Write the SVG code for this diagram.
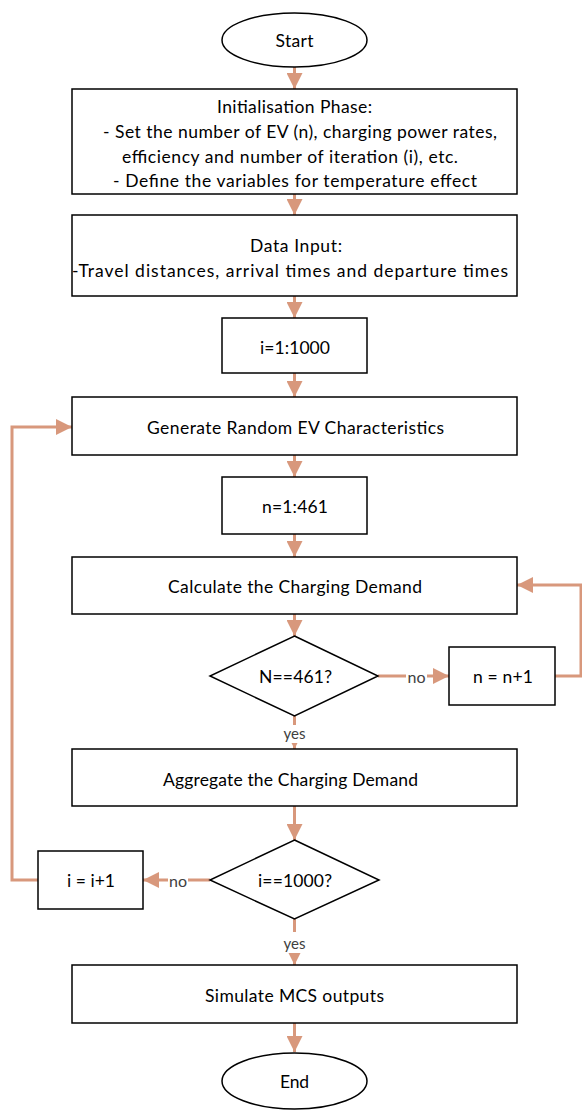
<svg xmlns="http://www.w3.org/2000/svg" width="582" height="1110" viewBox="0 0 582 1110">
<style>
.box{fill:#fff;stroke:#000;stroke-width:1.5}
.t{font-family:Lato,"Liberation Sans",sans-serif;font-size:17.5px;font-weight:400;fill:#000;text-anchor:middle;dominant-baseline:central}
.lbl{font-family:Lato,"Liberation Sans",sans-serif;font-size:15px;font-weight:400;fill:#404040;text-anchor:middle;dominant-baseline:central}
.c{fill:none;stroke:#D8987C;stroke-width:3}
.bg{fill:#fff}
</style>
<defs>
<marker id="ah" markerUnits="userSpaceOnUse" markerWidth="16" markerHeight="16" viewBox="0 0 16 16" refX="16" refY="8" orient="auto">
<path d="M0,0 L16,8 L0,16 Z" fill="#D8987C"/>
</marker>
</defs>
<g id="connectors">
<path class="c" d="M294.5,67 V89" marker-end="url(#ah)"/>
<path class="c" d="M294.5,194 V215" marker-end="url(#ah)"/>
<path class="c" d="M294.5,296 V318" marker-end="url(#ah)"/>
<path class="c" d="M294.5,373 V397" marker-end="url(#ah)"/>
<path class="c" d="M294.5,455 V477" marker-end="url(#ah)"/>
<path class="c" d="M294.5,534 V557" marker-end="url(#ah)"/>
<path class="c" d="M294.5,614 V636" marker-end="url(#ah)"/>
<path class="c" d="M378,676 H449" marker-end="url(#ah)"/>
<path class="c" d="M555,676 H581 V585 H517" marker-end="url(#ah)"/>
<path class="c" d="M294.5,716 V749" marker-end="url(#ah)"/>
<path class="c" d="M294.5,806 V840" marker-end="url(#ah)"/>
<path class="c" d="M210,880 H143" marker-end="url(#ah)"/>
<path class="c" d="M38,880 H12 V427 H72" marker-end="url(#ah)"/>
<path class="c" d="M294.5,919 V965" marker-end="url(#ah)"/>
<path class="c" d="M294.5,1023 V1052" marker-end="url(#ah)"/>
<rect class="bg" x="406" y="668" width="21" height="16"/>
<text class="lbl" x="416.5" y="677" textLength="18" lengthAdjust="spacingAndGlyphs">no</text>
<rect class="bg" x="168" y="872" width="20" height="16"/>
<text class="lbl" x="178" y="881" textLength="18" lengthAdjust="spacingAndGlyphs">no</text>
<rect class="bg" x="282" y="725" width="25" height="18"/>
<text class="lbl" x="294.5" y="733" textLength="22" lengthAdjust="spacingAndGlyphs">yes</text>
<rect class="bg" x="282" y="932" width="25" height="21"/>
<text class="lbl" x="294.5" y="943" textLength="22" lengthAdjust="spacingAndGlyphs">yes</text>
</g>
<g id="start">
<ellipse class="box" cx="294.5" cy="40" rx="72.5" ry="27"/>
<text class="t" x="294.5" y="40" textLength="38">Start</text>
</g>
<g id="init">
<rect class="box" x="72" y="89" width="445" height="105"/>
<text class="t" x="294.5" y="106" textLength="155">Initialisation Phase:</text>
<text class="t" x="300" y="131" textLength="394">- Set the number of EV (n), charging power rates,</text>
<text class="t" x="290" y="156" textLength="336">efficiency and  number of iteration (i), etc.</text>
<text class="t" x="295" y="180" textLength="364">- Define the variables for temperature effect</text>
</g>
<g id="data">
<rect class="box" x="72" y="215" width="445" height="81"/>
<text class="t" x="296" y="245" textLength="92">Data Input:</text>
<text class="t" x="290" y="270" textLength="436">-Travel distances, arrival times and departure times</text>
</g>
<g id="iloop">
<rect class="box" x="222" y="318" width="145" height="55"/>
<text class="t" x="295" y="347" textLength="70">i=1:1000</text>
</g>
<g id="generate">
<rect class="box" x="72" y="397" width="445" height="58"/>
<text class="t" x="295.5" y="427" textLength="297">Generate Random EV Characteristics</text>
</g>
<g id="nloop">
<rect class="box" x="222" y="477" width="145" height="57"/>
<text class="t" x="295" y="506" textLength="66">n=1:461</text>
</g>
<g id="calc">
<rect class="box" x="72" y="557" width="445" height="57"/>
<text class="t" x="295" y="586" textLength="254">Calculate the Charging Demand</text>
</g>
<g id="dec1">
<polygon class="box" points="294.5,636 378,676 294.5,716 210,676"/>
<text class="t" x="295.5" y="676" textLength="73">N==461?</text>
</g>
<g id="ninc">
<rect class="box" x="449" y="647" width="106" height="58"/>
<text class="t" x="503" y="676" textLength="60">n = n+1</text>
</g>
<g id="aggregate">
<rect class="box" x="72" y="749" width="445" height="57"/>
<text class="t" x="290.5" y="779" textLength="255">Aggregate the Charging Demand</text>
</g>
<g id="dec2">
<polygon class="box" points="294.5,840 379,880 294.5,919 210,880"/>
<text class="t" x="295" y="880" textLength="74">i==1000?</text>
</g>
<g id="iinc">
<rect class="box" x="38" y="851" width="105" height="58"/>
<text class="t" x="91" y="880" textLength="48">i = i+1</text>
</g>
<g id="simulate">
<rect class="box" x="72" y="965" width="445" height="58"/>
<text class="t" x="294.5" y="995" textLength="179">Simulate MCS outputs</text>
</g>
<g id="end">
<ellipse class="box" cx="294.5" cy="1081" rx="72.5" ry="28"/>
<text class="t" x="294.5" y="1081" textLength="29">End</text>
</g>
</svg>
